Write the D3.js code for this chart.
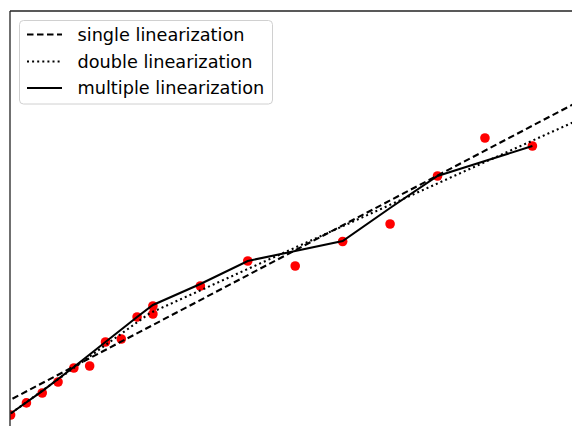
<!DOCTYPE html>
<html>
<head>
<meta charset="utf-8">
<script src="https://cdn.jsdelivr.net/npm/d3@7"></script>
<style>
  html, body { margin: 0; padding: 0; background: #fff; }
  svg { display: block; }
</style>
</head>
<body>
<svg id="chart" width="572" height="426"></svg>
<script>
// ---- data ----
const obsX = [0, 1, 2, 3, 4, 5, 6, 7, 8, 9, 9, 12, 15, 18, 21, 24, 27, 30, 33];
const obsY = [0.0, 3.0, 5.45, 8.17, 11.63, 12.13, 18.07, 18.81, 24.26, 26.98, 25.0, 31.93, 38.12, 36.88, 42.95, 47.28, 59.16, 68.56, 66.58];

const singleX = [-1, 36];
const singleY = [1.73, 77.77];

const doubleX = [-1, 8.8, 36];
const doubleY = [-2.46, 25.2, 73.2];

const multipleX = [0, 2, 4, 6, 8, 9, 12, 15, 18, 21, 24, 27, 30, 33];
const multipleY = [0.37, 5.9, 11.88, 18.07, 24.26, 27.23, 32.43, 38.12, 40.6, 43.07, 51.24, 59.16, 62.87, 66.58];

const legendLabels = ["single linearization", "double linearization", "multiple linearization"];

// ---- layout ----
const svg = d3.select("#chart");
const frame = { left: 10, top: 11, right: 590, bottom: 440 };

const x = d3.scaleLinear().domain([0, 33]).range([10.6, 532.4]);
const y = d3.scaleLinear().domain([0, 100]).range([415, 11]);

svg.append("defs").append("clipPath").attr("id", "clip")
  .append("rect")
  .attr("x", frame.left).attr("y", frame.top)
  .attr("width", frame.right - frame.left).attr("height", frame.bottom - frame.top);

const plot = svg.append("g").attr("clip-path", "url(#clip)");

const line = d3.line().x(d => x(d[0])).y(d => y(d[1]));
const zip = (a, b) => a.map((v, i) => [v, b[i]]);

const styles = [
  { dash: "6.5,3.5" },
  { dash: "2,3.1" },
  { dash: null }
];

const series = [zip(singleX, singleY), zip(doubleX, doubleY), zip(multipleX, multipleY)];

// observed points (drawn under lines)
plot.selectAll("circle.obs")
  .data(zip(obsX, obsY))
  .join("circle")
  .attr("class", "obs")
  .attr("cx", d => x(d[0]))
  .attr("cy", d => y(d[1]))
  .attr("r", 4.8)
  .attr("fill", "#ff0000");

series.forEach((s, i) => {
  plot.append("path")
    .datum(s)
    .attr("d", line)
    .attr("fill", "none")
    .attr("stroke", "#000")
    .attr("stroke-width", 2.1)
    .attr("stroke-dasharray", styles[i].dash);
});

// axes frame (only top and left visible)
svg.append("line")
  .attr("x1", frame.left).attr("x2", frame.right)
  .attr("y1", frame.top).attr("y2", frame.top)
  .attr("stroke", "#222").attr("stroke-width", 1.3);
svg.append("line")
  .attr("x1", frame.left).attr("x2", frame.left)
  .attr("y1", frame.top).attr("y2", frame.bottom)
  .attr("stroke", "#222").attr("stroke-width", 1.3);

// legend
const lg = svg.append("g");
lg.append("rect")
  .attr("x", 19.5).attr("y", 20.5)
  .attr("width", 253).attr("height", 83.5)
  .attr("rx", 4).attr("ry", 4)
  .attr("fill", "#fff").attr("fill-opacity", 0.85)
  .attr("stroke", "#d0d0d0").attr("stroke-width", 1);

const rowY = [34.5, 61.5, 88];
legendLabels.forEach((lab, i) => {
  lg.append("line")
    .attr("x1", 27).attr("x2", 62)
    .attr("y1", rowY[i]).attr("y2", rowY[i])
    .attr("stroke", "#000").attr("stroke-width", 2.1)
    .attr("stroke-dasharray", styles[i].dash);
  lg.append("text")
    .attr("x", 77.5).attr("y", rowY[i])
    .attr("dy", "0.36em")
    .attr("font-family", "DejaVu Sans")
    .attr("font-size", "17.7px")
    .attr("fill", "#000")
    .text(lab);
});
</script>
</body>
</html>
